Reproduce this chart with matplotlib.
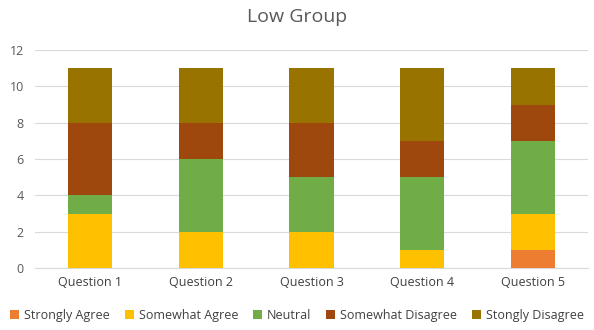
import matplotlib
matplotlib.use("Agg")
import matplotlib.pyplot as plt
import numpy as np

plt.rcParams['font.family'] = ['Open Sans', 'DejaVu Sans']

categories = ["Question 1", "Question 2", "Question 3", "Question 4", "Question 5"]
series_names = ["Strongly Agree", "Somewhat Agree", "Neutral", "Somewhat Disagree", "Stongly Disagree"]
strongly_agree = [0, 0, 0, 0, 1]
somewhat_agree = [3, 2, 2, 1, 2]
neutral = [1, 4, 3, 4, 4]
somewhat_disagree = [4, 2, 3, 2, 2]
strongly_disagree = [3, 3, 3, 4, 2]
colors = ["#ED7D31", "#FFC000", "#70AD47", "#9E480E", "#997300"]

fig = plt.figure(figsize=(5.94, 3.3), dpi=100)
ax = fig.add_axes([0.059, 0.188, 0.931, 0.66])

x = np.arange(len(categories))
bottom = np.zeros(len(categories))
for name, vals, c in zip(series_names, [strongly_agree, somewhat_agree, neutral, somewhat_disagree, strongly_disagree], colors):
    ax.bar(x, vals, 0.4, bottom=bottom, color=c, label=name, zorder=3)
    bottom += np.array(vals)

ax.set_xlim(-0.5, len(categories) - 0.5)
ax.set_ylim(0, 12)
ax.set_yticks(range(0, 13, 2))
ax.set_xticks(x)
ax.set_xticklabels(categories, fontsize=9, color="#404040")
ax.tick_params(axis='y', labelsize=9, colors="#595959", length=0, pad=8)
ax.tick_params(axis='x', length=0, pad=6)
ax.grid(axis='y', color="#D9D9D9", linewidth=0.8, zorder=0)
for s in ["top", "right", "left"]:
    ax.spines[s].set_visible(False)
ax.spines["bottom"].set_color("#D9D9D9")

fig.suptitle("Low Group", y=0.975, fontsize=14, color="#595959")
fig.legend(loc="lower center", ncol=5, frameon=False, fontsize=9,
           bbox_to_anchor=(0.5, -0.01), handlelength=0.7, handleheight=0.7,
           columnspacing=1.2, handletextpad=0.4, labelcolor="#404040")

fig.savefig("out.png", dpi=100)
